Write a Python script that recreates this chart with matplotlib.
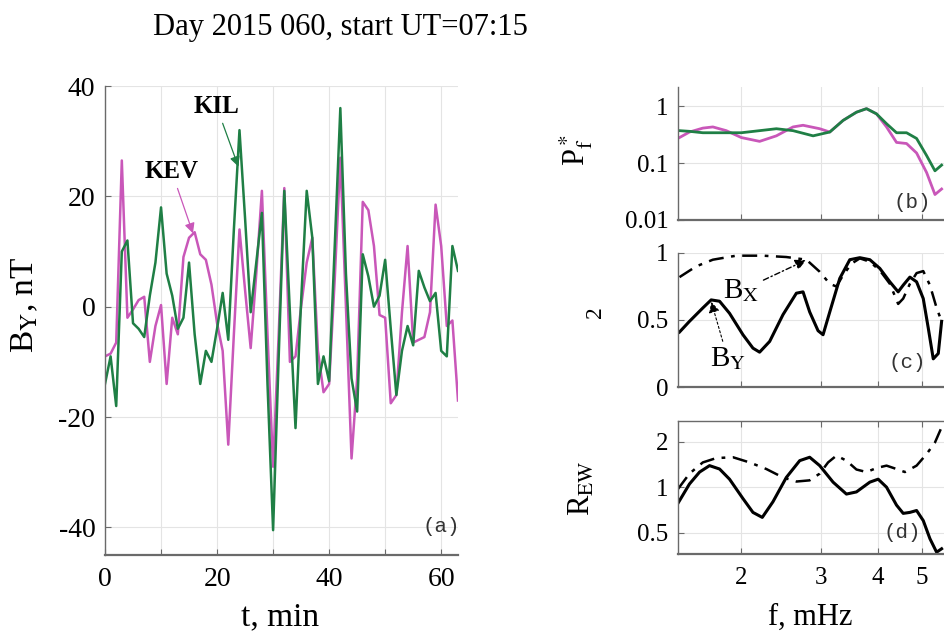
import numpy as np
import matplotlib
matplotlib.use('Agg')
import matplotlib.pyplot as plt
from matplotlib.ticker import FixedLocator, NullFormatter, NullLocator

plt.rcParams['font.family'] = ['Liberation Serif', 'DejaVu Serif']
plt.rcParams['mathtext.fontset'] = 'stix'
plt.rcParams['axes.unicode_minus'] = False

# ---- panel (a): B_Y time series ----
t_min = np.arange(64)
kil = [-14, -9, -18, 10, 12, -3, -4, -5.5, 2, 8, 18, 6, 2, -4, -2, 8, -5, -14, -8, -10,
       -4, 2.5, -6, 14, 32, 16, -1, 8, 17, -14, -40.5, -9, 21, -1, -22, 1, 21, 12.5, -14, -9,
       -13.5, 11, 36, 6, -13, -19, 9.5, 5.5, 0, 2, 8.5, -4, -16, -8, -3.5, -7, 6.5, 3.5, 1, 2.5,
       -8, -9, 11, 6.5]
kev = [-9, -8.5, -6.5, 26.5, -2, -0.5, 1.2, 1.8, -10, -3.5, 0.3, -14, -2, -5, 9, 12.5, 13.5, 9.5, 8.5, 4,
       -3, -8, -25, -5, 14, 3, -7.5, 6, 21, -5, -29, -5, 21.5, -10, -9, 0, 8, 12.5, -8, -15.5,
       -14, 5, 27, 0, -27.5, -13, 19, 17.5, 11, -1.5, -2, -17.5, -16, -1, 11, -6.5, -6, -5.5, -1, 18.5,
       11, -3.5, -2.5, -17]

# ---- panel (b): normalised spectra ----
f_b_kil = [1.461, 1.537, 1.645, 1.791, 2.0, 2.195, 2.390, 2.601, 2.880, 3.135, 3.355, 3.590, 3.778,
           3.975, 4.183, 4.401, 4.631, 4.873, 5.128, 5.350, 5.534]
p_kil = [0.37, 0.36, 0.34, 0.34, 0.34, 0.37, 0.40, 0.37, 0.30, 0.35, 0.56, 0.78, 0.90,
         0.73, 0.49, 0.34, 0.34, 0.27, 0.135, 0.073, 0.092]
f_b_kev = [1.461, 1.537, 1.645, 1.731, 1.853, 2.0, 2.195, 2.390, 2.601, 2.737, 2.979, 3.135, 3.355,
           3.590, 3.778, 3.975, 4.183, 4.401, 4.631, 4.873, 5.128, 5.350, 5.534]
p_kev = [0.28, 0.35, 0.41, 0.43, 0.37, 0.28, 0.24, 0.30, 0.43, 0.46, 0.40, 0.35, 0.56,
         0.78, 0.90, 0.73, 0.43, 0.23, 0.22, 0.15, 0.068, 0.028, 0.035]

# ---- panel (c): coherence ----
f_c_by = [1.461, 1.537, 1.645, 1.716, 1.791, 1.884, 2.017, 2.122, 2.195, 2.310, 2.472, 2.646, 2.737,
          2.831, 2.954, 3.030, 3.135, 3.298, 3.471, 3.652, 3.843, 4.043, 4.254, 4.438, 4.553, 4.710,
          4.873, 5.041, 5.171, 5.304, 5.441, 5.534]
coh_by = [0.41, 0.49, 0.59, 0.65, 0.64, 0.55, 0.39, 0.29, 0.26, 0.34, 0.54, 0.70, 0.71,
          0.56, 0.42, 0.39, 0.56, 0.81, 0.95, 0.965, 0.95, 0.885, 0.785, 0.71, 0.76, 0.82,
          0.785, 0.66, 0.44, 0.21, 0.25, 0.49]
f_c_bx = [1.461, 1.590, 1.731, 1.949, 2.233, 2.514, 2.784, 2.979, 3.135, 3.243, 3.355, 3.500, 3.652,
          3.843, 4.043, 4.254, 4.438, 4.553, 4.710, 4.873, 5.041, 5.215, 5.395, 5.534]
coh_bx = [0.82, 0.90, 0.95, 0.98, 0.98, 0.97, 0.95, 0.86, 0.77, 0.75, 0.835, 0.92, 0.96,
          0.935, 0.87, 0.77, 0.62, 0.66, 0.77, 0.85, 0.865, 0.76, 0.59, 0.49]

# ---- panel (d): R_EW ----
f_d_by = [1.449, 1.537, 1.618, 1.702, 1.791, 1.884, 2.017, 2.122, 2.225, 2.349, 2.514, 2.691, 2.831,
          2.979, 3.188, 3.412, 3.590, 3.843, 4.009, 4.183, 4.401, 4.553, 4.710, 4.873, 5.041, 5.215,
          5.395, 5.534]
rew_by = [0.78, 1.05, 1.26, 1.39, 1.32, 1.13, 0.84, 0.68, 0.63, 0.80, 1.16, 1.50, 1.58,
          1.39, 1.08, 0.90, 0.93, 1.08, 1.13, 1.0, 0.76, 0.67, 0.68, 0.70, 0.60, 0.455,
          0.37, 0.39]
f_d_bx = [1.449, 1.537, 1.645, 1.761, 1.917, 2.086, 2.271, 2.472, 2.646, 2.831, 2.979, 3.108, 3.243,
          3.412, 3.590, 3.778, 3.975, 4.183, 4.401, 4.592, 4.873, 5.128, 5.350, 5.534]
rew_bx = [0.97, 1.23, 1.46, 1.56, 1.58, 1.46, 1.32, 1.16, 1.09, 1.11, 1.23, 1.46, 1.62,
          1.50, 1.31, 1.26, 1.34, 1.39, 1.32, 1.26, 1.39, 1.66, 1.98, 2.5]

GREEN = '#1f7f45'
MAGENTA = '#c957b9'
GRID = '#e4e4e4'
SPINE = '#6a6a6a'
dashdot = (0, (6, 3, 1.5, 3))

W, H = 945, 639
fig = plt.figure(figsize=(W / 100, H / 100), dpi=100)


def box(x0, y0, x1, y1):
    return [x0 / W, 1 - y1 / H, (x1 - x0) / W, (y1 - y0) / H]


def style(ax, fs, top=False):
    for s in ['right', 'top']:
        ax.spines[s].set_visible(False)
    if top:
        ax.spines['top'].set_visible(True)
    for s in ax.spines.values():
        s.set_color(SPINE)
        s.set_linewidth(1.0)
    ax.spines['bottom'].set_linewidth(1.6)
    ax.tick_params(direction='in', length=4, color=SPINE, labelsize=fs, width=0.8,
                   top=top, right=False)
    ax.tick_params(axis='x', pad=9)
    ax.tick_params(axis='y', pad=7)
    ax.grid(True, color=GRID, linewidth=0.8)
    ax.set_axisbelow(True)


# panel (a)
axa = fig.add_axes(box(105, 86, 458, 555))
style(axa, 20)
axa.plot(t_min, kev, color=MAGENTA, lw=1.8)
axa.plot(t_min, kil, color=GREEN, lw=1.8)
axa.set_xlim(0, 63)
axa.set_ylim(-45, 40)
axa.set_xticks(np.arange(0, 61, 10))
axa.set_xticklabels(['0', '', '20', '', '40', '', '60'])
axa.set_yticks([-40, -20, 0, 20, 40])
axa.annotate('KIL', xy=(23.8, 25.4), xytext=(19.9, 36.3), fontsize=18, fontweight='bold',
             ha='center', va='center',
             arrowprops=dict(arrowstyle='-|>', color=GREEN, lw=0.9, mutation_scale=15,
                             shrinkA=2, shrinkB=0))
axa.annotate('KEV', xy=(15.7, 13.3), xytext=(11.9, 24.5), fontsize=18, fontweight='bold',
             ha='center', va='center',
             arrowprops=dict(arrowstyle='-|>', color=MAGENTA, lw=0.9, mutation_scale=15,
                             shrinkA=2, shrinkB=0))

xlim_f = (1.45, 5.63)
fticks = [2, 3, 4, 5]

# panel (b)
axb = fig.add_axes(box(678, 87, 945, 220))
style(axb, 18)
axb.plot(f_b_kev, p_kev, color=MAGENTA, lw=2.0)
axb.plot(f_b_kil, p_kil, color=GREEN, lw=2.0)
axb.set_xscale('log')
axb.set_yscale('log')
axb.set_xlim(*xlim_f)
axb.set_ylim(0.01, 2.16)
axb.xaxis.set_major_locator(FixedLocator(fticks))
axb.xaxis.set_minor_locator(NullLocator())
axb.xaxis.set_major_formatter(NullFormatter())
axb.xaxis.set_minor_formatter(NullFormatter())
axb.yaxis.set_major_locator(FixedLocator([0.01, 0.1, 1]))
axb.yaxis.set_minor_locator(NullLocator())
axb.set_yticklabels(['0.01', '0.1', '1'])

# panel (c)
axc = fig.add_axes(box(678, 253, 945, 387))
style(axc, 18)
axc.plot(f_c_bx, coh_bx, color='black', lw=1.8, linestyle=dashdot)
axc.plot(f_c_by, coh_by, color='black', lw=2.2)
axc.set_xscale('log')
axc.set_xlim(*xlim_f)
axc.set_ylim(0, 1)
axc.xaxis.set_major_locator(FixedLocator(fticks))
axc.xaxis.set_minor_locator(NullLocator())
axc.xaxis.set_major_formatter(NullFormatter())
axc.xaxis.set_minor_formatter(NullFormatter())
axc.set_yticks([0, 0.5, 1])
axc.set_yticklabels(['0', '0.5', '1'])
axc.annotate('B$_\\mathrm{X}$', xy=(2.78, 0.947), xytext=(2.0, 0.72), fontsize=21,
             ha='center', va='center',
             arrowprops=dict(arrowstyle='-|>', color='black', lw=1.0, linestyle=(0, (4, 2, 1, 2)),
                             mutation_scale=16, shrinkA=1, shrinkB=0))
axc.annotate('B$_\\mathrm{Y}$', xy=(1.717, 0.636), xytext=(1.868, 0.21), fontsize=21,
             ha='center', va='center',
             arrowprops=dict(arrowstyle='-|>', color='black', lw=0.8, linestyle=(0, (2, 2)),
                             mutation_scale=16, shrinkA=1, shrinkB=0))

# panel (d)
axd = fig.add_axes(box(678, 421, 945, 554))
style(axd, 18, top=True)
axd.plot(f_d_bx, rew_bx, color='black', lw=1.8, linestyle=dashdot)
axd.plot(f_d_by, rew_by, color='black', lw=2.2)
axd.set_xscale('log')
axd.set_yscale('log')
axd.set_xlim(*xlim_f)
axd.set_ylim(0.36, 2.75)
axd.xaxis.set_major_locator(FixedLocator(fticks))
axd.xaxis.set_minor_locator(NullLocator())
axd.xaxis.set_minor_formatter(NullFormatter())
axd.set_xticklabels(['2', '3', '4', '5'])
axd.yaxis.set_major_locator(FixedLocator([0.5, 1, 2]))
axd.yaxis.set_minor_locator(NullLocator())
axd.yaxis.set_minor_formatter(NullFormatter())
axd.set_yticklabels(['0.5', '1', '2'])

# labels and titles
fig.text(340 / W, 1 - 28 / H, 'Day 2015 060, start UT=07:15', fontsize=22, ha='center', va='center')
fig.text(25 / W, 1 - 305 / H, 'B$_\\mathrm{Y}$, nT', fontsize=24, rotation=90, ha='center', va='center')
fig.text(280 / W, 1 - 617 / H, 't, min', fontsize=24, ha='center', va='center')
fig.text(810 / W, 1 - 617 / H, 'f, mHz', fontsize=22, ha='center', va='center')
fig.text(576 / W, 1 - 150 / H, 'P$^*_\\mathrm{f}$', fontsize=22, rotation=90, ha='center', va='center')
fig.text(595 / W, 1 - 312 / H, '2', fontsize=17, rotation=90, ha='center', va='center')
fig.text(582 / W, 1 - 488 / H, 'R$_\\mathrm{EW}$', fontsize=22, rotation=90, ha='center', va='center')

mono = dict(family=['Liberation Mono', 'DejaVu Sans Mono'], fontsize=15, color='#333333',
            ha='center', va='center')
fig.text(441 / W, 1 - 527 / H, '(a)', **mono)
fig.text(912 / W, 1 - 203 / H, '(b)', **mono)
fig.text(907 / W, 1 - 363 / H, '(c)', **mono)
fig.text(902 / W, 1 - 533 / H, '(d)', **mono)

fig.savefig('out.png', dpi=100)
